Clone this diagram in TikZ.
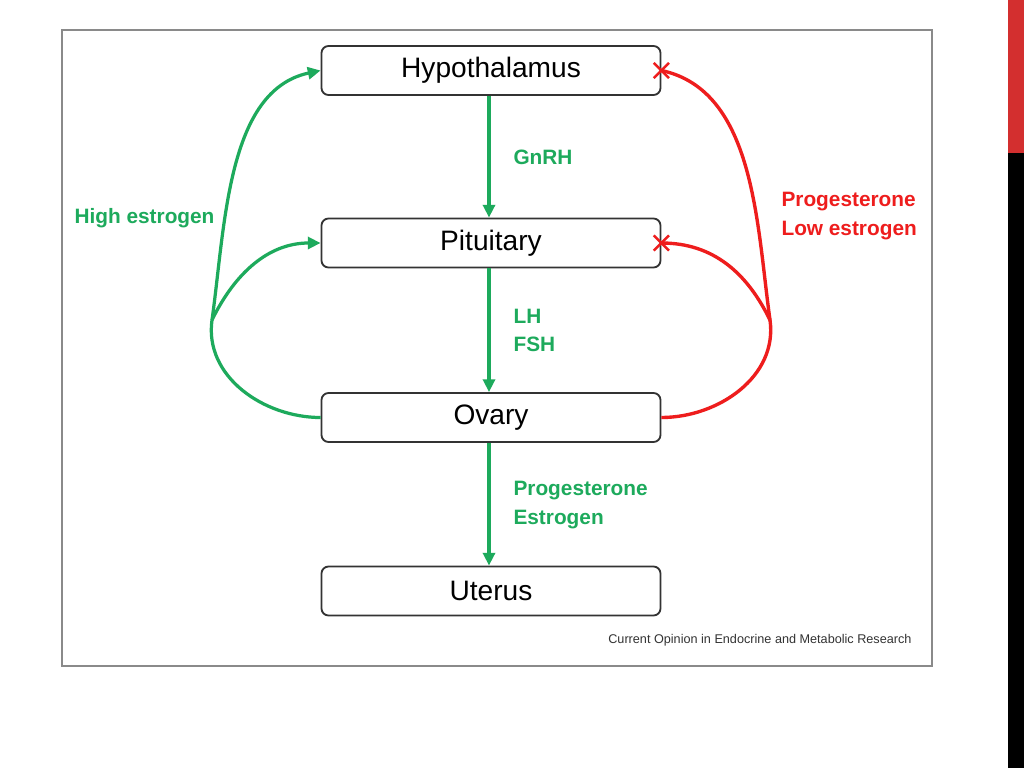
\documentclass[tikz,border=0pt]{standalone}
\usepackage{fontspec}
\setmainfont{Liberation Sans}
\usetikzlibrary{arrows.meta, shapes.misc}
\definecolor{cgreen}{HTML}{1DAA5C}
\definecolor{cred}{HTML}{EE1D1D}
\definecolor{cdark}{HTML}{333333}
\definecolor{cframe}{HTML}{8A8A8A}
\definecolor{cbar}{HTML}{D32F2F}
\tikzset{
  every picture/.style={line width=1.2pt},
  organ/.style={draw=cdark, fill=white, rounded corners=5pt, minimum width=84.75mm, minimum height=12.25mm,
    inner sep=0pt, line width=1.3pt, font=\fontsize{20}{23}\selectfont},
  garrow/.style={-{Triangle[length=3.2mm, width=3mm]}, draw=cgreen, line width=2.3pt},
  rline/.style={draw=cred, line width=2.4pt},
  xmark/.style={cross out, draw=cred, line width=1.7pt, minimum size=3.2mm, inner sep=0pt},
  glabel/.style={font=\fontsize{14.8}{20}\selectfont\bfseries, text=cgreen, align=left},
  rlabel/.style={font=\fontsize{14.8}{20}\selectfont\bfseries, text=cred, align=left},
  source/.style={font=\fontsize{9}{11}\selectfont, text=cdark},
}

\begin{document}
\begin{tikzpicture}[x=0.25mm, y=-0.25mm]
  \useasboundingbox (0,0) rectangle (1024,768);
  \fill[white] (0,0) rectangle (1024,768);
  % slide edge
  \fill[cbar] (1008,0) rectangle (1024,153);
  \fill[black] (1008,153) rectangle (1024,768);
  \draw[cframe, line width=0.8pt] (62,30) rectangle (932,666);

  \node[organ] (hyp) at (491, 70.5) {Hypothalamus};
  \node[organ] (pit) at (491, 243) {Pituitary};
  \node[organ] (ova) at (491, 417.5) {Ovary};
  \node[organ] (ute) at (491, 591) {Uterus};

  % stimulating path
  \draw[garrow] ([xshift=-0.5mm]hyp.south) -- ([xshift=-0.5mm]pit.north);
  \draw[garrow] ([xshift=-0.5mm]pit.south) -- ([xshift=-0.5mm]ova.north);
  \draw[garrow] ([xshift=-0.5mm]ova.south) -- ([xshift=-0.5mm]ute.north);
  \node[glabel, anchor=west] (gnrh) at (508, 157) {GnRH};
  \node[glabel, anchor=west] (lhfsh) at (508, 330) {LH\\FSH};
  \node[glabel, anchor=west] (hormones) at (508, 505) {Progesterone\\Estrogen};

  % positive feedback
  \coordinate (lj) at (212, 320);
  \draw[draw=cgreen, line width=2.3pt] (ova.west) to[out=180, in=262] (lj);
  \draw[garrow] (lj) to[out=82, in=192, looseness=0.9] (hyp.west);
  \draw[garrow] (lj) to[out=64, in=180] (pit.west);
  \node[glabel, anchor=east] (high) at (220, 218) {High estrogen};

  % negative feedback
  \coordinate (rj) at (770, 320);
  \draw[rline] (ova.east) to[out=0, in=278] (rj);
  \draw[rline] (rj) to[out=98, in=-12, looseness=0.9] (hyp.east);
  \draw[rline] (rj) to[out=116, in=0] (pit.east);
  \node[xmark] (xhyp) at (hyp.east) {};
  \node[xmark] (xpit) at (pit.east) {};
  \node[rlabel, anchor=west] (low) at (776, 216) {Progesterone\\Low estrogen};

  \node[source, anchor=east] (src) at (917, 640) {Current Opinion in Endocrine and Metabolic Research};
\end{tikzpicture}
\end{document}
